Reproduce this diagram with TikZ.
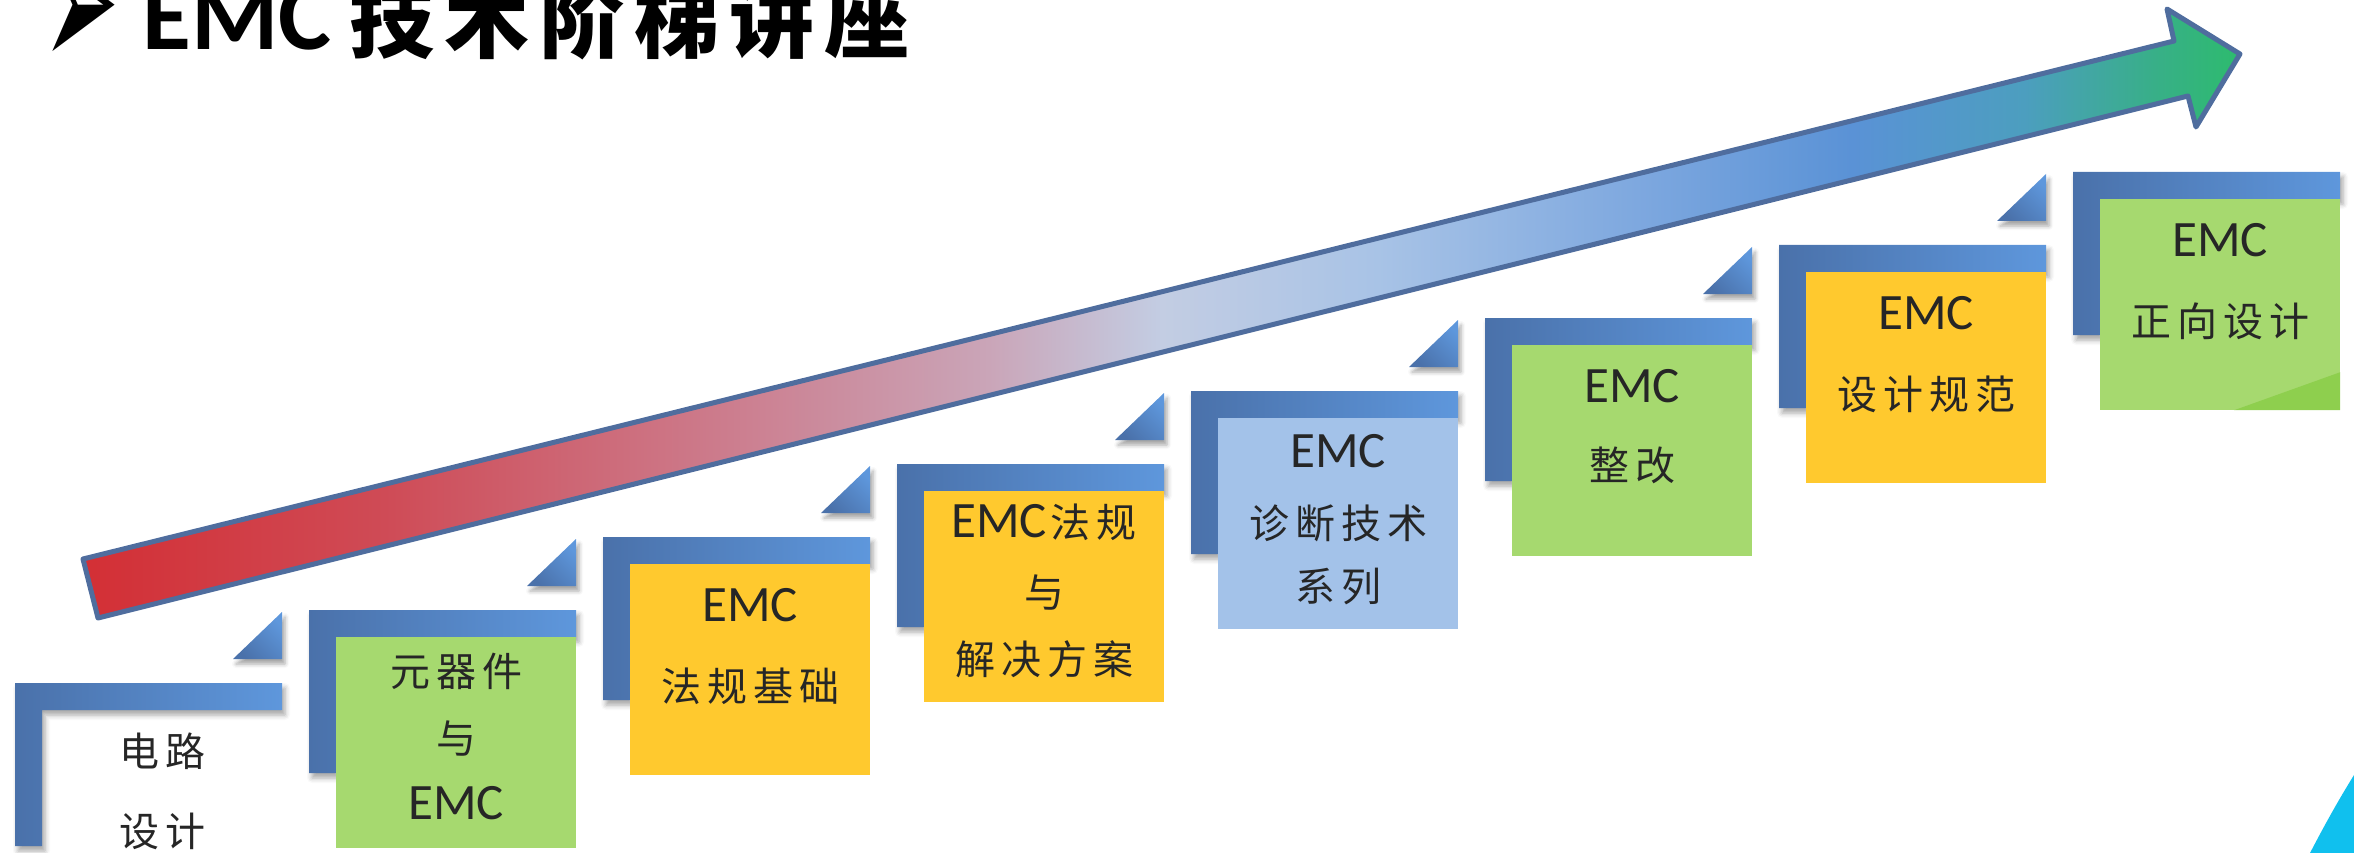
\documentclass[tikz,border=0pt]{standalone}
\usepackage{fontspec}
\setmainfont{Carlito}
\newfontfamily\cjk{Noto Sans CJK SC}
\newfontfamily\dingfont{DejaVu Sans}
\usetikzlibrary{calc,shadows.blur}

% step brackets and boxes
\definecolor{brkL}{HTML}{4A71AA}
\definecolor{brkR}{HTML}{5E97DC}
\definecolor{boxgreen}{HTML}{A6D96F}
\definecolor{boxgreendark}{HTML}{8ECF4E}
\definecolor{boxyellow}{HTML}{FFC92E}
\definecolor{boxblue}{HTML}{A3C2E9}
\definecolor{txt}{HTML}{262626}
\definecolor{arrowline}{HTML}{4F6D9E}
\definecolor{cornercyan}{HTML}{10C0EE}

% colours along the rising arrow, tail to head
\definecolor{ra0}{HTML}{D32F35}
\definecolor{ra1}{HTML}{CF4B56}
\definecolor{ra2}{HTML}{CC7D8E}
\definecolor{ra3}{HTML}{CAA5B8}
\definecolor{ra4}{HTML}{C3CDE3}
\definecolor{ra5}{HTML}{A8C3E6}
\definecolor{ra6}{HTML}{7EA8DF}
\definecolor{ra7}{HTML}{5A92D6}
\definecolor{ra8}{HTML}{4C9EBF}
\definecolor{ra9}{HTML}{38AF88}
\definecolor{ra10}{HTML}{2DBB6E}
\pgfdeclarehorizontalshading{risingarrow}{100bp}{
  color(0bp)=(ra0); color(25bp)=(ra0); color(32bp)=(ra1); color(40bp)=(ra2);
  color(46bp)=(ra3); color(50bp)=(ra4); color(55bp)=(ra5); color(61bp)=(ra6);
  color(66bp)=(ra7); color(70bp)=(ra8); color(73bp)=(ra9); color(75bp)=(ra10);
  color(100bp)=(ra10)}

\newcommand{\cg}{\kern6pt}
\newcommand{\tg}{\kern10pt}
\newcommand{\emcword}{{\normalfont\fontsize{51}{56}\selectfont EMC}}

\tikzset{
  stepbar/.style={left color=brkL, right color=brkR,
    blur shadow={shadow xshift=3pt, shadow yshift=-5pt, shadow blur radius=5pt, shadow opacity=35}},
  stepwedge/.style={top color=brkR, bottom color=brkL, shading angle=-45,
    blur shadow={shadow xshift=3pt, shadow yshift=-5pt, shadow blur radius=4pt, shadow opacity=35}},
  stepbox/.style={rectangle, minimum width=240pt, minimum height=211pt, inner sep=0pt, draw=none},
  emctext/.style={inner sep=0pt, text=txt, font=\fontsize{51}{56}\selectfont},
  cjktext/.style={inner sep=0pt, text=txt, font=\cjk\fontsize{40}{46}\selectfont},
}

\begin{document}
\begin{tikzpicture}[x=1pt,y=-1pt]
\useasboundingbox (0,0) rectangle (2354,853);

% title
\node[inner sep=0pt, font=\dingfont\fontsize{92}{92}\selectfont] (bullet) at (81,15) {\scalebox{1}[2.3]{➢}};
\node[anchor=base west, inner sep=0pt, font=\bfseries\fontsize{100}{110}\selectfont] (titleemc) at (142,50) {EMC};
\node[anchor=base west, inner sep=0pt, font=\cjk\bfseries\fontsize{85}{90}\selectfont] (titlecjk) at (349,52) {技\tg 术\tg 阶\tg 梯\tg 讲\tg 座};

% rising arrow
\path[draw=arrowline, line width=5pt, line join=round, shading=risingarrow]
  (83,559) -- (2174,41) -- (2167,9) -- (2240,54) -- (2196,127) -- (2188,96) -- (98,618) -- cycle;

% eight steps: bracket, wedge towards the next step, box
\foreach \k/\fillc in {0/none,1/boxgreen,2/boxyellow,3/boxyellow,4/boxblue,5/boxgreen,6/boxyellow,7/boxgreen}{
  \pgfmathsetmacro\bx{15+294*\k}
  \pgfmathsetmacro\by{683-73*\k}
  \path[stepbar] (\bx,\by) -- ++(267,0) -- ++(0,27) -- ++(-240,0) -- ++(0,136) -- ++(-27,0) -- cycle;
  \node[stepbox, fill=\fillc] (box\k) at (\bx+147,\by+132.5) {};
}
\foreach \k in {0,...,6}{
  \pgfmathsetmacro\bx{15+294*\k}
  \pgfmathsetmacro\by{683-73*\k}
  \path[stepwedge] (\bx+218,\by-24) -- (\bx+267,\by-24) -- (\bx+267,\by-71) -- cycle;
}
% folded corner of the last box
\fill[boxgreendark] ($(box7.south east)+(-106,0)$) -- (box7.south east) -- ($(box7.south east)+(0,-38)$) -- cycle;

% step labels
\node[cjktext] (l0a) at ($(box0)+(0,-64)$) {电\cg 路};
\node[cjktext] (l0b) at ($(box0)+(0,16)$) {设\cg 计};

\node[cjktext] (l1a) at ($(box1)+(0,-71)$) {元\cg 器\cg 件};
\node[cjktext] (l1b) at ($(box1)+(0,-4)$) {与};
\node[emctext] (l1c) at ($(box1)+(0,61)$) {EMC};

\node[emctext] (l2a) at ($(box2)+(0,-64)$) {EMC};
\node[cjktext] (l2b) at ($(box2)+(0,17)$) {法\cg 规\cg 基\cg 础};

\node[cjktext] (l3a) at ($(box3)+(0,-74)$) {\emcword\kern4pt 法\cg 规};
\node[cjktext] (l3b) at ($(box3)+(0,-4)$) {与};
\node[cjktext] (l3c) at ($(box3)+(0,63)$) {解\cg 决\cg 方\cg 案};

\node[emctext] (l4a) at ($(box4)+(0,-72)$) {EMC};
\node[cjktext] (l4b) at ($(box4)+(0,0)$) {诊\cg 断\cg 技\cg 术};
\node[cjktext] (l4c) at ($(box4)+(0,63)$) {系\cg 列};

\node[emctext] (l5a) at ($(box5)+(0,-64)$) {EMC};
\node[cjktext] (l5b) at ($(box5)+(0,15)$) {整\cg 改};

\node[emctext] (l6a) at ($(box6)+(0,-64)$) {EMC};
\node[cjktext] (l6b) at ($(box6)+(0,17)$) {设\cg 计\cg 规\cg 范};

\node[emctext] (l7a) at ($(box7)+(0,-64)$) {EMC};
\node[cjktext] (l7b) at ($(box7)+(0,17)$) {正\cg 向\cg 设\cg 计};

% corner ornament
\fill[cornercyan] (2354,775) .. controls (2336,804) and (2322,830) .. (2310,853) -- (2354,853) -- cycle;
\end{tikzpicture}
\end{document}
